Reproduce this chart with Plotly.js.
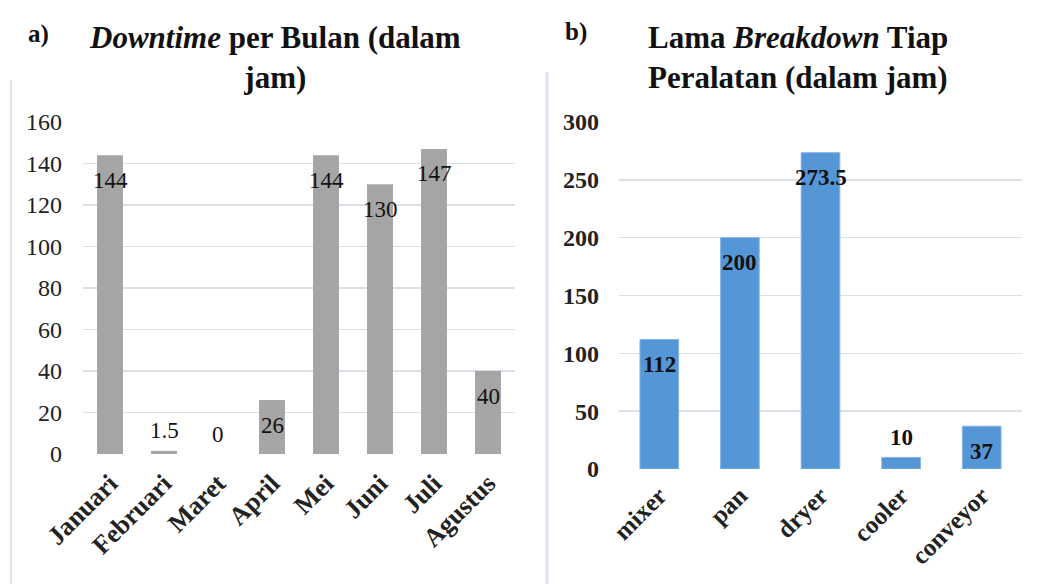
<!DOCTYPE html>
<html>
<head>
<meta charset="utf-8">
<script src="https://cdn.plot.ly/plotly-3.0.1.min.js"></script>
<style>html,body{margin:0;padding:0;background:#fff;}#chart{width:1044px;height:584px;}</style>
</head>
<body>
<div id="chart"></div>
<script>
// Chart a) data
const months = ['Januari','Februari','Maret','April','Mei','Juni','Juli','Agustus'];
const downtime = [144, 1.5, 0, 26, 144, 130, 147, 40];
const downtimeLabels = ['144','1.5','0','26','144','130','147','40'];
const yTicksA = [0,20,40,60,80,100,120,140,160];

// Chart b) data
const equipment = ['mixer','pan','dryer','cooler','conveyor'];
const breakdown = [112, 200, 273.5, 10, 37];
const breakdownLabels = ['112','200','273.5','10','37'];
const yTicksB = [0,50,100,150,200,250,300];

const W = 1044, H = 584;
const px = v => v / W;
const py = v => 1 - v / H;
const serif = 'Liberation Serif';
const gridCol = '#dbe1ea';

const traces = [
  {type:'bar', x: months, y: downtime, xaxis:'x', yaxis:'y',
   marker:{color:'#a5a5a5'}, hoverinfo:'none', showlegend:false},
  {type:'bar', x: equipment, y: breakdown, xaxis:'x2', yaxis:'y2',
   marker:{color:'#5596d7', line:{color:'#86b6e6', width:1}}, hoverinfo:'none', showlegend:false}
];

function labelAnns(cats, vals, texts, xref, yref, ymax, bold) {
  return cats.map((c, i) => {
    const inside = vals[i] >= 0.08 * ymax;
    return {
      xref, yref, x: c, y: vals[i], text: bold ? '<b>' + texts[i] + '</b>' : texts[i],
      showarrow:false, xanchor:'center', yanchor:'middle',
      yshift: inside ? -25 : 20,
      font:{family: serif, size: 23, color:'#111'}
    };
  });
}

const annotations = [
  ...labelAnns(months, downtime, downtimeLabels, 'x', 'y', 160, false),
  ...labelAnns(equipment, breakdown, breakdownLabels, 'x2', 'y2', 300, true),
  {xref:'paper', yref:'paper', x: px(275), y: py(58), xanchor:'center', yanchor:'middle',
   align:'center', showarrow:false,
   text:'<b><i>Downtime</i> per Bulan (dalam<br>jam)</b>',
   font:{family: serif, size: 31, color:'#111'}},
  {xref:'paper', yref:'paper', x: px(646), y: py(57), xanchor:'left', yanchor:'middle',
   align:'left', showarrow:false,
   text:'<b>Lama <i>Breakdown</i> Tiap<br>Peralatan (dalam jam)</b>',
   font:{family: serif, size: 31, color:'#111'}},
  {xref:'paper', yref:'paper', x: px(26), y: py(34), xanchor:'left', yanchor:'middle',
   showarrow:false, text:'<b>a)</b>', font:{family: serif, size: 25, color:'#111'}},
  {xref:'paper', yref:'paper', x: px(563), y: py(32), xanchor:'left', yanchor:'middle',
   showarrow:false, text:'<b>b)</b>', font:{family: serif, size: 25, color:'#111'}}
];

const shapes = [
  {type:'line', xref:'paper', yref:'paper', x0: px(11), x1: px(11), y0: py(80), y1: 0,
   line:{color:'#dde3ec', width:2}},
  {type:'line', xref:'paper', yref:'paper', x0: px(547), x1: px(547), y0: py(72), y1: 0,
   line:{color:'#dde3ec', width:3}}
];

const layout = {
  width: W, height: H,
  margin:{l:0, r:0, t:0, b:0},
  paper_bgcolor:'#fff', plot_bgcolor:'rgba(0,0,0,0)',
  showlegend:false,
  bargap: 0.52,
  xaxis:{domain:[px(83), px(515)], anchor:'y', tickangle:-45, showgrid:false, zeroline:false,
         showline:false, ticks:'', fixedrange:true, ticklabelstandoff: 8,
         tickfont:{family: serif, size: 26, color:'#222', weight:'bold'}},
  yaxis:{domain:[py(454), py(122)], anchor:'x', range:[0,160], tickvals: yTicksA,
         showgrid:true, gridcolor: gridCol, gridwidth:1.5, zeroline:false, showline:false,
         ticks:'', ticklabelstandoff: 20, fixedrange:true,
         tickfont:{family: serif, size: 24, color:'#222'}},
  xaxis2:{domain:[px(619), px(1022)], anchor:'y2', tickangle:-45, showgrid:false, zeroline:false,
         showline:false, ticks:'', fixedrange:true, ticklabelstandoff: 6,
         tickfont:{family: serif, size: 25, color:'#222', weight:'bold'}},
  yaxis2:{domain:[py(469), py(122)], anchor:'x2', range:[0,300], tickvals: yTicksB,
         showgrid:true, gridcolor: gridCol, gridwidth:1.5, zeroline:false, showline:false,
         ticks:'', ticklabelstandoff: 19, fixedrange:true,
         tickfont:{family: serif, size: 24, color:'#222', weight:'bold'}},
  annotations, shapes
};

Plotly.newPlot('chart', traces, layout, {displayModeBar:false, staticPlot:true});
</script>
</body>
</html>
